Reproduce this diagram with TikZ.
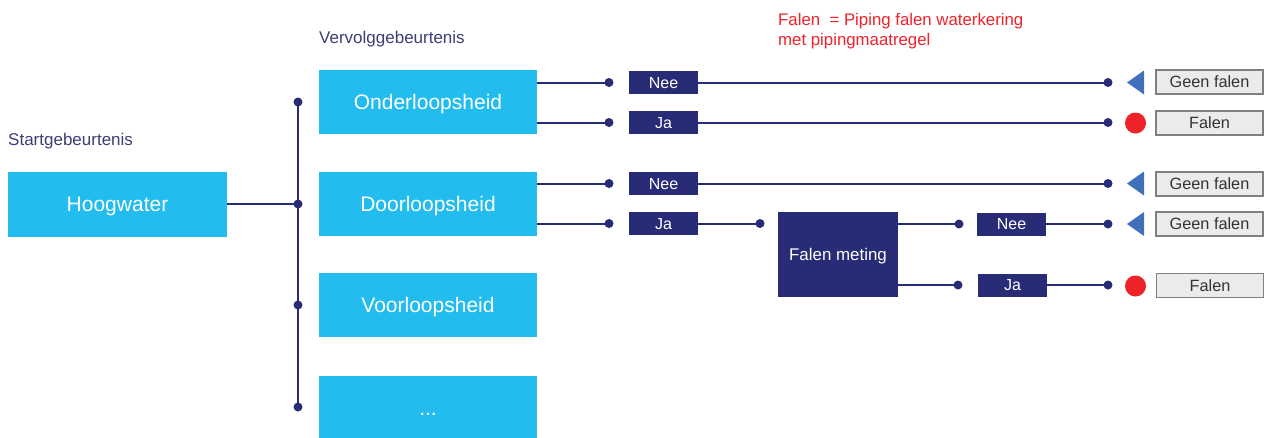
\documentclass[tikz,border=0pt]{standalone}
\usepackage{fontspec}
\setmainfont{Liberation Sans}
\definecolor{cyanbox}{HTML}{22BCEE}
\definecolor{navy}{HTML}{282C77}
\definecolor{labelc}{HTML}{3B3F75}
\definecolor{redc}{HTML}{EE2229}
\definecolor{tri}{HTML}{4170BA}
\definecolor{grayfill}{HTML}{EBEBEB}
\definecolor{grayline}{HTML}{808080}
\definecolor{graytext}{HTML}{333333}
\tikzset{
  ev/.style={fill=cyanbox, text=white, minimum width=218pt, minimum height=64pt, inner sep=0pt, font=\fontsize{21}{24}\selectfont, text height=15pt, text depth=0pt},
  yn/.style={fill=navy, text=white, minimum width=69pt, minimum height=23pt, inner sep=0pt, font=\fontsize{16}{19}\selectfont, text height=11.5pt, text depth=0pt},
  res/.style={fill=grayfill, draw=grayline, line width=1.2pt, text=graytext, minimum width=107pt, minimum height=24pt, inner sep=0pt, font=\fontsize{16.3}{19}\selectfont, text height=11.7pt, text depth=0pt},
  dot/.style={circle, fill=navy, minimum size=9pt, inner sep=0pt},
  ln/.style={draw=navy, line width=2pt},
  redball/.style={circle, fill=redc, minimum size=21pt, inner sep=0pt},
  lab/.style={text=labelc, anchor=base west, inner sep=0pt, font=\fontsize{17}{20}\selectfont},
  legendtxt/.style={text=redc, anchor=base west, inner sep=0pt, font=\fontsize{16.8}{20}\selectfont},
}
\begin{document}
\begin{tikzpicture}[x=1pt,y=-1pt]
\useasboundingbox (0,0) rectangle (1267,437);
% labels
\node[lab] (startlab) at (8,145) {Startgebeurtenis};
\node[lab] (vervlab) at (319,43) {Vervolggebeurtenis};
\node[legendtxt] (legend1) at (778,25) {Falen\ \ = Piping falen waterkering};
\node[legendtxt] (legend2) at (778,45) {met pipingmaatregel};
% start event
\node[ev, minimum width=219pt, minimum height=65pt] (hw) at (117.5,204) {Hoogwater};
% spine
\node[dot] (s1) at (298,102) {};
\node[dot] (s2) at (298,204) {};
\node[dot] (s3) at (298,305) {};
\node[dot] (s4) at (298,407) {};
\draw[ln] (s1.center) -- (s4.center);
\draw[ln] (hw.east) -- (s2.center);
% follow-up events
\node[ev] (ond) at (428,102) {Onderloopsheid};
\node[ev] (door) at (428,204) {Doorloopsheid};
\node[ev] (voor) at (428,305) {Voorloopsheid};
\node[ev] (etc) at (428,408) {...};
% yes/no boxes
\node[yn] (n1) at (663.5,82.5) {Nee};
\node[yn] (j1) at (663.5,122.5) {Ja};
\node[yn] (n2) at (663.5,183.5) {Nee};
\node[yn] (j2) at (663.5,223.5) {Ja};
\node[yn] (n3) at (1011.5,224) {Nee};
\node[yn] (j3) at (1012.5,285) {Ja};
% dots before yes/no
\node[dot] (a1) at (609,82.5) {};
\node[dot] (a2) at (609,122.5) {};
\node[dot] (a3) at (609,183.5) {};
\node[dot] (a4) at (609,223.5) {};
\node[dot] (a5) at (760,223.5) {};
\node[dot] (a6) at (959,224) {};
\node[dot] (a7) at (958,285) {};
% end dots
\node[dot] (e1) at (1108,82.5) {};
\node[dot] (e2) at (1108,122.5) {};
\node[dot] (e3) at (1108,183.5) {};
\node[dot] (e4) at (1108,224) {};
\node[dot] (e5) at (1108,285) {};
% measurement failure
\node[fill=navy, text=white, minimum width=120pt, minimum height=85pt, inner sep=0pt, font=\fontsize{16.9}{20}\selectfont, text height=12pt, text depth=0pt] (fm) at (838,254.5) {Falen meting};
% connectors
\draw[ln] (ond.east |- a1) -- (a1.center);
\draw[ln] (ond.east |- a2) -- (a2.center);
\draw[ln] (door.east |- a3) -- (a3.center);
\draw[ln] (door.east |- a4) -- (a4.center);
\draw[ln] (n1.east) -- (e1.center);
\draw[ln] (j1.east) -- (e2.center);
\draw[ln] (n2.east) -- (e3.center);
\draw[ln] (j2.east) -- (a5.center);
\draw[ln] (fm.east |- a6) -- (a6.center);
\draw[ln] (fm.east |- a7) -- (a7.center);
\draw[ln] (n3.east) -- (e4.center);
\draw[ln] (j3.east) -- (e5.center);
% end symbols
\fill[tri] (1127,82.5) -- (1144,70.5) -- (1144,94.5) -- cycle;
\node[redball] (r1) at (1135.5,123) {};
\fill[tri] (1127,183.5) -- (1144,171.5) -- (1144,195.5) -- cycle;
\fill[tri] (1127,224) -- (1144,212) -- (1144,236) -- cycle;
\node[redball] (r2) at (1135.5,286) {};
% results
\node[res] (g1) at (1209.5,82) {Geen falen};
\node[res] (f1) at (1209.5,123) {Falen};
\node[res] (g2) at (1209.5,184) {Geen falen};
\node[res] (g3) at (1209.5,224) {Geen falen};
\node[res] (f2) at (1210,285.5) {Falen};
\end{tikzpicture}
\end{document}
